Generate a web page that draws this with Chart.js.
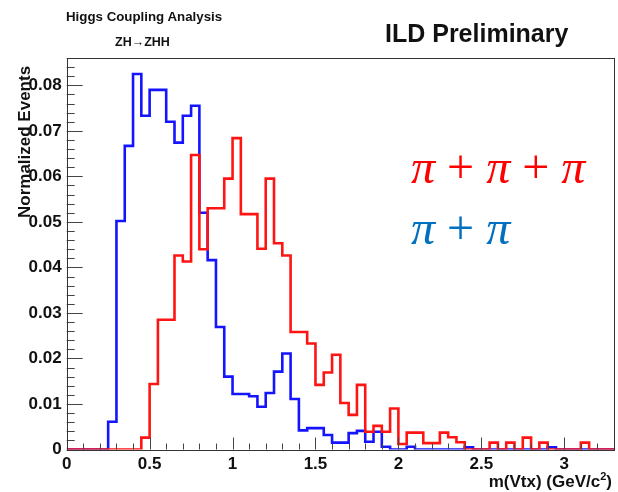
<!DOCTYPE html>
<html>
<head>
<meta charset="utf-8">
<script src="https://cdn.jsdelivr.net/npm/chart.js@4.4.1/dist/chart.umd.min.js"></script>
<style>
  body { margin: 0; background: #fff; }
  #wrap { position: relative; width: 618px; height: 492px; overflow: hidden; }
  canvas { position: absolute; left: 0; top: 0; }
  .lbl { position: absolute; white-space: nowrap; font-family: "Liberation Sans", Arial, sans-serif; font-weight: bold; color: #111; }
  .pi { position: absolute; white-space: nowrap; font-family: "Liberation Serif", serif; font-size: 48px; line-height: 1; }
  .pi i { font-style: italic; }
</style>
</head>
<body>
<div id="wrap">
  <canvas id="chart" width="618" height="492"></canvas>
  <div class="lbl" style="left:66px; top:9px; font-size:13.3px;">Higgs Coupling Analysis</div>
  <div class="lbl" style="left:115px; top:35px; font-size:12.5px;">ZH&rarr;ZHH</div>
  <div class="lbl" style="left:385px; top:19px; font-size:25px;">ILD Preliminary</div>
  <div class="pi" style="left:411px; top:143px; color:#ff0000;"><i>π</i> + <i>π</i> + <i>π</i></div>
  <div class="pi" style="left:411px; top:204px; color:#0070c0;"><i>π</i> + <i>π</i></div>
</div>
<script>
// histogram binning (GeV/c^2)
const binWidth = 0.05;
const xMax = 3.3;

// pi+pi+pi (red), 66 bins from 0 to 3.3
const threePi = [
  0, 0, 0, 0, 0, 0, 0, 0, 0, 0.0026,
  0.0144, 0.0285, 0.0285, 0.0426, 0.0413, 0.0647, 0.044, 0.053, 0.053, 0.0595,
  0.0684, 0.0517, 0.0517, 0.0441, 0.0595, 0.0453, 0.0426, 0.0258, 0.0258, 0.0233,
  0.0142, 0.0169, 0.0208, 0.0102, 0.0076, 0.0142, 0.0039, 0.0052, 0.0039, 0.009,
  0.0012, 0.0037, 0.0037, 0.0014, 0.0014, 0.0037, 0.0027, 0.0016, 0, 0,
  0, 0.0015, 0, 0.0015, 0, 0.0026, 0, 0.0015, 0, 0,
  0, 0, 0.0015, 0, 0, 0
];

// pi+pi (blue)
const twoPi = [
  0, 0, 0, 0, 0, 0.0061, 0.0502, 0.0667, 0.0825, 0.0733,
  0.079, 0.079, 0.072, 0.0674, 0.0733, 0.0755, 0.052, 0.0416, 0.0269, 0.016,
  0.0122, 0.0122, 0.0117, 0.0094, 0.0124, 0.0171, 0.0211, 0.0111, 0.0042, 0.0047,
  0.0047, 0.0032, 0.0015, 0.0015, 0.0036, 0.0041, 0.0017, 0.0039, 0.0006, 0,
  0, 0.0006, 0, 0, 0, 0, 0, 0, 0.0005, 0,
  0, 0, 0, 0, 0, 0, 0, 0, 0.0005, 0,
  0, 0, 0, 0, 0, 0
];

const yMax = 0.086;

function histPoints(vals) {
  const pts = vals.map((v, i) => ({ x: +(i * binWidth).toFixed(2), y: v }));
  pts.push({ x: xMax, y: vals[vals.length - 1] });
  return pts;
}

const font = { family: "'Liberation Sans', Arial, sans-serif", size: 17, weight: 'bold' };

// ROOT-like frame with inward ticks and the axis titles
const rootFrame = {
  id: 'rootFrame',
  afterDraw(chart) {
    const { ctx, chartArea: a, scales: { x, y } } = chart;
    ctx.save();
    ctx.strokeStyle = '#444';
    ctx.lineWidth = 1;
    ctx.beginPath();
    // y ticks
    for (let k = 0; k <= Math.round(yMax / 0.002); k++) {
      const v = k * 0.002;
      const py = Math.round(y.getPixelForValue(v)) + 0.5;
      const len = (k % 5 === 0) ? 16 : 8;
      ctx.moveTo(a.left, py);
      ctx.lineTo(a.left + len, py);
    }
    // x ticks
    for (let k = 0; k <= Math.round(xMax / 0.1); k++) {
      const px = Math.round(x.getPixelForValue(k * 0.1)) + 0.5;
      const len = (k % 5 === 0) ? 12 : 6;
      ctx.moveTo(px, a.bottom);
      ctx.lineTo(px, a.bottom - len);
    }
    ctx.stroke();
    ctx.strokeStyle = '#333';
    ctx.strokeRect(Math.round(a.left) + 0.5, Math.round(a.top) + 0.5,
      Math.round(a.right - a.left), Math.round(a.bottom - a.top));

    ctx.fillStyle = '#111';
    ctx.font = "bold 17px 'Liberation Sans', Arial, sans-serif";
    // y axis title
    ctx.save();
    ctx.translate(25, 218);
    ctx.rotate(-Math.PI / 2);
    ctx.textAlign = 'left';
    ctx.textBaseline = 'middle';
    ctx.fillText('Normalized Events', 0, 0);
    ctx.restore();
    // x axis title with superscript
    const right = 612, base = 487;
    ctx.textBaseline = 'alphabetic';
    ctx.textAlign = 'left';
    const p1 = 'm(Vtx) (GeV/c', p3 = ')';
    ctx.font = "bold 17px 'Liberation Sans', Arial, sans-serif";
    const w1 = ctx.measureText(p1).width, w3 = ctx.measureText(p3).width;
    ctx.font = "bold 11px 'Liberation Sans', Arial, sans-serif";
    const w2 = ctx.measureText('2').width;
    const start = right - w1 - w2 - w3;
    ctx.font = "bold 17px 'Liberation Sans', Arial, sans-serif";
    ctx.fillText(p1, start, base);
    ctx.fillText(p3, start + w1 + w2, base);
    ctx.font = "bold 11px 'Liberation Sans', Arial, sans-serif";
    ctx.fillText('2', start + w1, base - 7);
    ctx.restore();
  }
};

new Chart(document.getElementById('chart'), {
  type: 'line',
  data: {
    datasets: [
      {
        label: 'pi+pi+pi',
        data: histPoints(threePi),
        borderColor: '#ff1414',
        borderWidth: 2.6,
        stepped: 'before',
        pointRadius: 0,
        fill: false
      },
      {
        label: 'pi+pi',
        data: histPoints(twoPi),
        borderColor: '#1414ff',
        borderWidth: 2.6,
        stepped: 'before',
        pointRadius: 0,
        fill: false
      }
    ]
  },
  options: {
    responsive: false,
    animation: false,
    devicePixelRatio: 1,
    layout: { padding: { top: 58, right: 4, left: 0, bottom: 0 } },
    plugins: { legend: { display: false }, tooltip: { enabled: false } },
    scales: {
      x: {
        type: 'linear',
        min: 0,
        max: xMax,
        grid: { display: false, drawTicks: false },
        border: { display: false },
        ticks: {
          stepSize: 0.5,
          includeBounds: false,
          autoSkip: false,
          maxRotation: 0,
          padding: 5,
          color: '#111',
          font: font,
          callback: v => v === 0 ? '0' : String(parseFloat(v.toFixed(1)))
        },
        afterFit(scale) { scale.height = 42.5; }
      },
      y: {
        min: 0,
        max: yMax,
        grid: { display: false, drawTicks: false },
        border: { display: false },
        ticks: {
          stepSize: 0.01,
          includeBounds: false,
          autoSkip: false,
          padding: 5,
          color: '#111',
          font: font,
          callback: v => v === 0 ? '0' : v.toFixed(2)
        },
        afterFit(scale) { scale.width = 66.7; }
      }
    }
  },
  plugins: [rootFrame]
});
</script>
</body>
</html>
